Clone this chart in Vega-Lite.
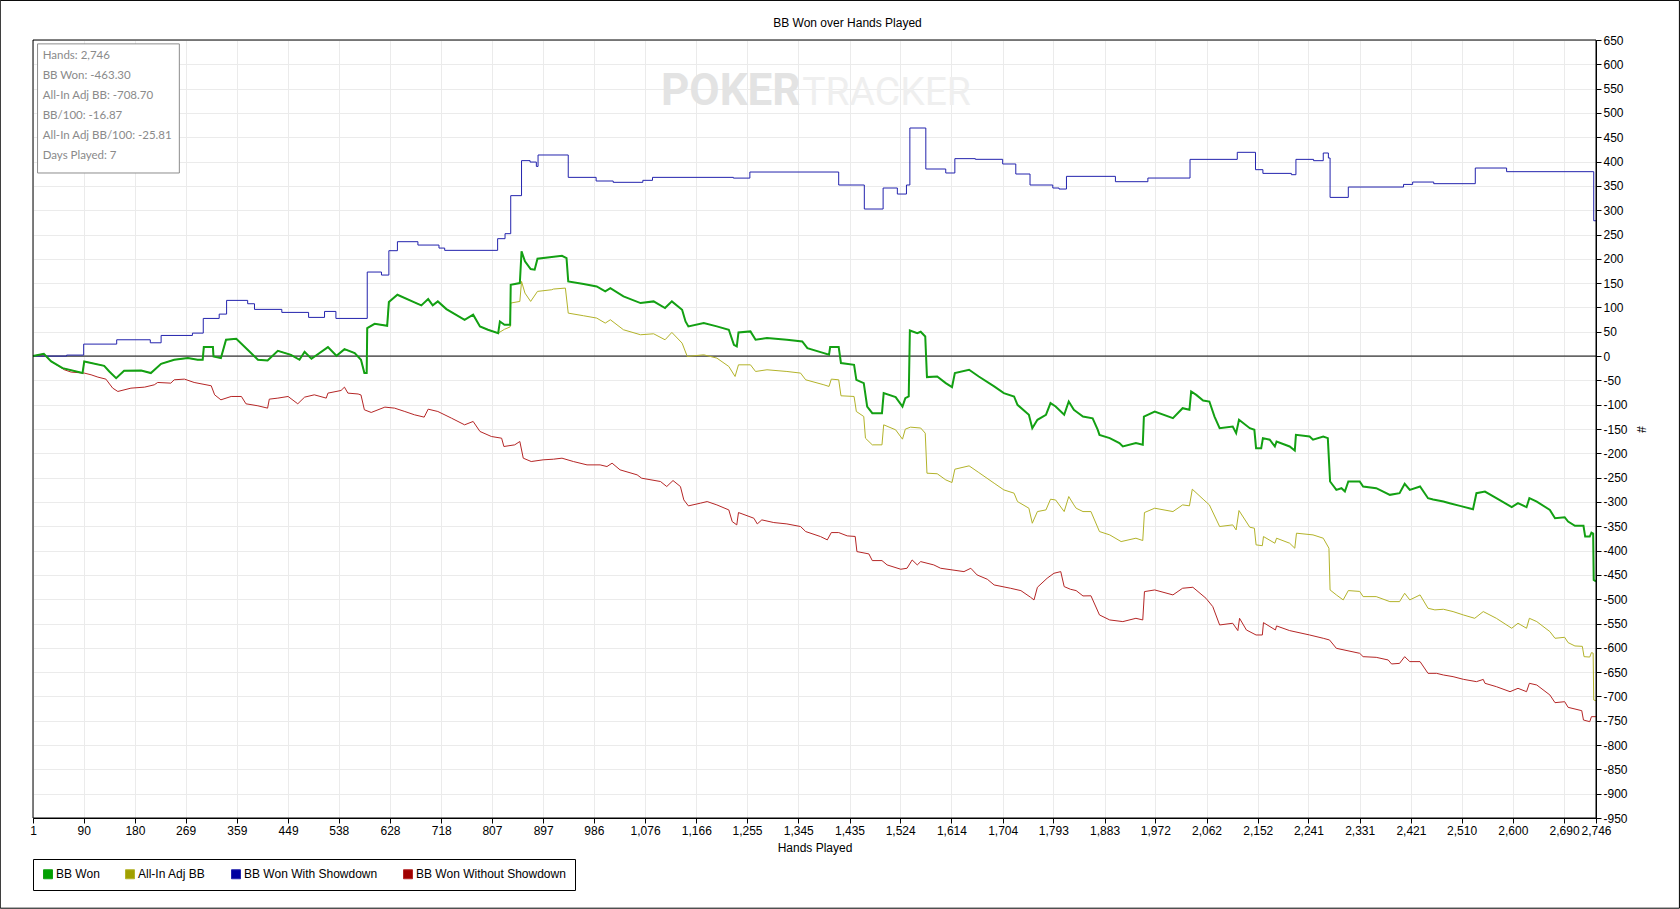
{
  "$schema": "https://vega.github.io/schema/vega-lite/v6.json",
  "width": 1563,
  "height": 778,
  "autosize": {"type": "none"},
  "padding": {"left": 33, "top": 40, "right": 84, "bottom": 91},
  "background": "white",
  "title": {"text": "BB Won over Hands Played", "font": "Liberation Sans", "fontSize": 12, "fontWeight": "normal", "color": "black", "offset": 5, "dx": 33, "dy": 35},
  "datasets": {
    "won": [
      {"hand":1,"bb":0},{"hand":20,"bb":4.7},{"hand":33,"bb":-11},{"hand":53,"bb":-24.8},{"hand":88,"bb":-35},{"hand":91,"bb":-11},{"hand":126,"bb":-20},{"hand":135,"bb":-31.7},{"hand":147,"bb":-45.4},{"hand":161,"bb":-30.3},{"hand":191,"bb":-29.6},{"hand":208,"bb":-35},{"hand":226,"bb":-15.9},{"hand":249,"bb":-7.6},{"hand":273,"bb":-4.2},{"hand":290,"bb":-7.6},{"hand":299,"bb":-7.6},{"hand":301,"bb":18.4},{"hand":317,"bb":18.4},{"hand":318,"bb":-0.8},{"hand":331,"bb":-4.2},{"hand":340,"bb":33.5},{"hand":358,"bb":35.6},{"hand":378,"bb":13},{"hand":396,"bb":-7.6},{"hand":413,"bb":-9},{"hand":431,"bb":10.9},{"hand":454,"bb":2.6},{"hand":469,"bb":-7.6},{"hand":478,"bb":8.8},{"hand":490,"bb":-5.6},{"hand":519,"bb":18.4},{"hand":534,"bb":0.6},{"hand":548,"bb":14.3},{"hand":566,"bb":6.1},{"hand":577,"bb":-7.6},{"hand":583,"bb":-35},{"hand":587,"bb":-35},{"hand":588,"bb":57.5},{"hand":601,"bb":66.4},{"hand":623,"bb":62.3},{"hand":626,"bb":111},{"hand":641,"bb":126.1},{"hand":671,"bb":110.4},{"hand":683,"bb":104.2},{"hand":695,"bb":117.2},{"hand":703,"bb":104.2},{"hand":712,"bb":112.4},{"hand":727,"bb":96.6},{"hand":759,"bb":74.7},{"hand":774,"bb":85},{"hand":786,"bb":61},{"hand":800,"bb":54.1},{"hand":818,"bb":47.2},{"hand":821,"bb":71.2},{"hand":829,"bb":64.4},{"hand":839,"bb":64.4},{"hand":840,"bb":146.7},{"hand":856,"bb":150.1},{"hand":859,"bb":215.3},{"hand":865,"bb":194.7},{"hand":875,"bb":179},{"hand":882,"bb":177.6},{"hand":887,"bb":200.2},{"hand":912,"bb":203.6},{"hand":930,"bb":206.3},{"hand":938,"bb":201.5},{"hand":941,"bb":153.5},{"hand":968,"bb":148},{"hand":991,"bb":143.2},{"hand":1006,"bb":133},{"hand":1015,"bb":139.8},{"hand":1038,"bb":122.6},{"hand":1068,"bb":109},{"hand":1091,"bb":112.4},{"hand":1111,"bb":98.7},{"hand":1123,"bb":112.4},{"hand":1141,"bb":95.2},{"hand":1147,"bb":71.2},{"hand":1152,"bb":61},{"hand":1179,"bb":67.8},{"hand":1202,"bb":61},{"hand":1223,"bb":54.1},{"hand":1232,"bb":23.2},{"hand":1237,"bb":19.8},{"hand":1240,"bb":48.6},{"hand":1261,"bb":50.7},{"hand":1270,"bb":33.5},{"hand":1290,"bb":37},{"hand":1325,"bb":33.5},{"hand":1352,"bb":30.1},{"hand":1361,"bb":16.3},{"hand":1390,"bb":6.1},{"hand":1399,"bb":2.6},{"hand":1401,"bb":18.4},{"hand":1416,"bb":18.4},{"hand":1420,"bb":-14.5},{"hand":1443,"bb":-18},{"hand":1447,"bb":-48.8},{"hand":1460,"bb":-55.7},{"hand":1466,"bb":-103.7},{"hand":1475,"bb":-117.4},{"hand":1492,"bb":-117.4},{"hand":1495,"bb":-76.3},{"hand":1516,"bb":-84.5},{"hand":1528,"bb":-103.7},{"hand":1533,"bb":-86.5},{"hand":1539,"bb":-83.1},{"hand":1541,"bb":52.7},{"hand":1554,"bb":47.2},{"hand":1560,"bb":50},{"hand":1568,"bb":40.3},{"hand":1571,"bb":-43.3},{"hand":1589,"bb":-42},{"hand":1604,"bb":-55.7},{"hand":1615,"bb":-63.9},{"hand":1620,"bb":-35},{"hand":1645,"bb":-28.2},{"hand":1662,"bb":-42},{"hand":1689,"bb":-62.5},{"hand":1706,"bb":-76.3},{"hand":1724,"bb":-83.1},{"hand":1730,"bb":-100.3},{"hand":1750,"bb":-120.8},{"hand":1756,"bb":-148.3},{"hand":1765,"bb":-131.1},{"hand":1780,"bb":-120.8},{"hand":1788,"bb":-96.8},{"hand":1797,"bb":-103.7},{"hand":1812,"bb":-120.8},{"hand":1820,"bb":-93.4},{"hand":1829,"bb":-110.6},{"hand":1833,"bb":-114},{"hand":1845,"bb":-124.4},{"hand":1862,"bb":-128},{"hand":1871,"bb":-151.8},{"hand":1874,"bb":-162},{"hand":1892,"bb":-168.8},{"hand":1909,"bb":-179.1},{"hand":1915,"bb":-186},{"hand":1938,"bb":-179},{"hand":1950,"bb":-182.5},{"hand":1952,"bb":-124.4},{"hand":1971,"bb":-114},{"hand":2003,"bb":-127.8},{"hand":2020,"bb":-107.2},{"hand":2032,"bb":-110.6},{"hand":2035,"bb":-72.9},{"hand":2044,"bb":-79.8},{"hand":2056,"bb":-91.4},{"hand":2067,"bb":-93.5},{"hand":2076,"bb":-124.4},{"hand":2085,"bb":-148.4},{"hand":2108,"bb":-144.8},{"hand":2114,"bb":-158.5},{"hand":2119,"bb":-131.1},{"hand":2138,"bb":-148.3},{"hand":2146,"bb":-151.7},{"hand":2149,"bb":-189.4},{"hand":2158,"bb":-189.4},{"hand":2161,"bb":-168.8},{"hand":2173,"bb":-172},{"hand":2182,"bb":-186},{"hand":2185,"bb":-175.7},{"hand":2208,"bb":-186},{"hand":2217,"bb":-194.2},{"hand":2219,"bb":-162},{"hand":2243,"bb":-165.4},{"hand":2249,"bb":-172},{"hand":2267,"bb":-165.4},{"hand":2275,"bb":-168.8},{"hand":2279,"bb":-258},{"hand":2290,"bb":-275.2},{"hand":2299,"bb":-271.7},{"hand":2305,"bb":-278.6},{"hand":2311,"bb":-258},{"hand":2331,"bb":-258},{"hand":2337,"bb":-268.3},{"hand":2360,"bb":-271.7},{"hand":2384,"bb":-285.4},{"hand":2401,"bb":-282},{"hand":2410,"bb":-262.8},{"hand":2419,"bb":-275.2},{"hand":2437,"bb":-268.3},{"hand":2451,"bb":-292.3},{"hand":2460,"bb":-295},{"hand":2478,"bb":-299.2},{"hand":2489,"bb":-302.6},{"hand":2507,"bb":-308.1},{"hand":2530,"bb":-315},{"hand":2536,"bb":-282},{"hand":2551,"bb":-278.6},{"hand":2571,"bb":-292.3},{"hand":2598,"bb":-310.8},{"hand":2609,"bb":-302.6},{"hand":2624,"bb":-310.8},{"hand":2629,"bb":-292.3},{"hand":2642,"bb":-299.2},{"hand":2665,"bb":-316.3},{"hand":2674,"bb":-333.5},{"hand":2691,"bb":-331.4},{"hand":2697,"bb":-340.3},{"hand":2709,"bb":-349.2},{"hand":2724,"bb":-349.2},{"hand":2727,"bb":-371.2},{"hand":2735,"bb":-371.2},{"hand":2738,"bb":-363},{"hand":2741,"bb":-365},{"hand":2742,"bb":-460.4},{"hand":2746,"bb":-463.3}
    ],
    "adj": [
      {"hand":1,"bb":0},{"hand":20,"bb":4.7},{"hand":33,"bb":-11},{"hand":53,"bb":-24.8},{"hand":88,"bb":-35},{"hand":91,"bb":-11},{"hand":126,"bb":-20},{"hand":135,"bb":-31.7},{"hand":147,"bb":-45.4},{"hand":161,"bb":-30.3},{"hand":191,"bb":-29.6},{"hand":208,"bb":-35},{"hand":226,"bb":-15.9},{"hand":249,"bb":-7.6},{"hand":273,"bb":-4.2},{"hand":290,"bb":-7.6},{"hand":299,"bb":-7.6},{"hand":301,"bb":18.4},{"hand":317,"bb":18.4},{"hand":318,"bb":-0.8},{"hand":331,"bb":-4.2},{"hand":340,"bb":33.5},{"hand":358,"bb":35.6},{"hand":378,"bb":13},{"hand":396,"bb":-7.6},{"hand":413,"bb":-9},{"hand":431,"bb":10.9},{"hand":454,"bb":2.6},{"hand":469,"bb":-7.6},{"hand":478,"bb":8.8},{"hand":490,"bb":-5.6},{"hand":519,"bb":18.4},{"hand":534,"bb":0.6},{"hand":548,"bb":14.3},{"hand":566,"bb":6.1},{"hand":577,"bb":-7.6},{"hand":583,"bb":-35},{"hand":587,"bb":-35},{"hand":588,"bb":57.5},{"hand":601,"bb":66.4},{"hand":623,"bb":62.3},{"hand":626,"bb":111},{"hand":641,"bb":126.1},{"hand":671,"bb":110.4},{"hand":683,"bb":104.2},{"hand":695,"bb":117.2},{"hand":703,"bb":104.2},{"hand":712,"bb":112.4},{"hand":727,"bb":96.6},{"hand":759,"bb":74.7},{"hand":774,"bb":85},{"hand":786,"bb":61},{"hand":800,"bb":54.1},{"hand":818,"bb":47.2},{"hand":829,"bb":55},{"hand":839,"bb":60},{"hand":840,"bb":109},{"hand":856,"bb":112.4},{"hand":859,"bb":153.5},{"hand":865,"bb":129.5},{"hand":875,"bb":112.4},{"hand":887,"bb":133},{"hand":912,"bb":136.4},{"hand":915,"bb":137.8},{"hand":936,"bb":139.8},{"hand":941,"bb":88.3},{"hand":968,"bb":82.9},{"hand":991,"bb":78.1},{"hand":1006,"bb":67.8},{"hand":1015,"bb":74.7},{"hand":1038,"bb":54.1},{"hand":1068,"bb":43.8},{"hand":1091,"bb":45.8},{"hand":1111,"bb":33.5},{"hand":1123,"bb":48.6},{"hand":1141,"bb":26.6},{"hand":1150,"bb":-0.8},{"hand":1179,"bb":2.6},{"hand":1202,"bb":-4.2},{"hand":1223,"bb":-21.4},{"hand":1234,"bb":-42},{"hand":1240,"bb":-18},{"hand":1261,"bb":-18},{"hand":1270,"bb":-31.7},{"hand":1290,"bb":-28.2},{"hand":1325,"bb":-31.7},{"hand":1349,"bb":-35},{"hand":1358,"bb":-48.8},{"hand":1390,"bb":-59.1},{"hand":1399,"bb":-62.5},{"hand":1403,"bb":-47.4},{"hand":1416,"bb":-48.8},{"hand":1420,"bb":-81.7},{"hand":1443,"bb":-83.1},{"hand":1447,"bb":-114},{"hand":1460,"bb":-124.3},{"hand":1463,"bb":-168.9},{"hand":1475,"bb":-182.6},{"hand":1492,"bb":-182.6},{"hand":1495,"bb":-141.4},{"hand":1516,"bb":-151.7},{"hand":1528,"bb":-170.9},{"hand":1533,"bb":-150.3},{"hand":1542,"bb":-146.2},{"hand":1560,"bb":-148},{"hand":1568,"bb":-158.6},{"hand":1571,"bb":-240.9},{"hand":1589,"bb":-242},{"hand":1604,"bb":-254.6},{"hand":1615,"bb":-260.1},{"hand":1620,"bb":-232.7},{"hand":1645,"bb":-225.8},{"hand":1662,"bb":-239.5},{"hand":1689,"bb":-261.5},{"hand":1706,"bb":-275.2},{"hand":1724,"bb":-282},{"hand":1730,"bb":-299.2},{"hand":1750,"bb":-312.9},{"hand":1756,"bb":-343.8},{"hand":1765,"bb":-319.8},{"hand":1780,"bb":-316.4},{"hand":1788,"bb":-294.4},{"hand":1797,"bb":-296},{"hand":1812,"bb":-319.8},{"hand":1820,"bb":-288.9},{"hand":1829,"bb":-306.1},{"hand":1833,"bb":-312.9},{"hand":1845,"bb":-319.8},{"hand":1859,"bb":-319.8},{"hand":1874,"bb":-360.9},{"hand":1892,"bb":-367.8},{"hand":1912,"bb":-381.5},{"hand":1938,"bb":-374.6},{"hand":1950,"bb":-379.4},{"hand":1953,"bb":-321.8},{"hand":1971,"bb":-312.9},{"hand":2003,"bb":-319.8},{"hand":2020,"bb":-306.1},{"hand":2032,"bb":-308},{"hand":2037,"bb":-273.8},{"hand":2056,"bb":-294.4},{"hand":2067,"bb":-306.1},{"hand":2085,"bb":-350.6},{"hand":2108,"bb":-347.2},{"hand":2114,"bb":-357.5},{"hand":2119,"bb":-317.7},{"hand":2138,"bb":-352},{"hand":2146,"bb":-354},{"hand":2149,"bb":-388.3},{"hand":2160,"bb":-390},{"hand":2162,"bb":-371.2},{"hand":2182,"bb":-384.9},{"hand":2185,"bb":-374.6},{"hand":2208,"bb":-384.9},{"hand":2217,"bb":-395.2},{"hand":2220,"bb":-364.3},{"hand":2249,"bb":-367.8},{"hand":2267,"bb":-374.6},{"hand":2277,"bb":-395.2},{"hand":2279,"bb":-481},{"hand":2290,"bb":-491.2},{"hand":2302,"bb":-501.5},{"hand":2311,"bb":-482.3},{"hand":2331,"bb":-484},{"hand":2337,"bb":-494.7},{"hand":2360,"bb":-494.7},{"hand":2384,"bb":-505},{"hand":2401,"bb":-505},{"hand":2410,"bb":-487.8},{"hand":2419,"bb":-501.5},{"hand":2437,"bb":-491.2},{"hand":2451,"bb":-518.7},{"hand":2463,"bb":-522},{"hand":2478,"bb":-520.7},{"hand":2495,"bb":-525.5},{"hand":2513,"bb":-532.4},{"hand":2533,"bb":-539.3},{"hand":2548,"bb":-525.5},{"hand":2571,"bb":-539.3},{"hand":2598,"bb":-559.8},{"hand":2609,"bb":-549.5},{"hand":2624,"bb":-559.8},{"hand":2629,"bb":-539.3},{"hand":2642,"bb":-546.1},{"hand":2665,"bb":-566.7},{"hand":2674,"bb":-580.4},{"hand":2691,"bb":-578.4},{"hand":2697,"bb":-589.3},{"hand":2709,"bb":-596.2},{"hand":2722,"bb":-597},{"hand":2725,"bb":-618.2},{"hand":2735,"bb":-619},{"hand":2738,"bb":-609.9},{"hand":2741,"bb":-611},{"hand":2742,"bb":-707.3},{"hand":2746,"bb":-708.7}
    ],
    "sd": [
      {"hand":1,"bb":0},{"hand":60,"bb":2},{"hand":90,"bb":24.6},{"hand":148,"bb":33.5},{"hand":207,"bb":27.3},{"hand":226,"bb":42.4},{"hand":281,"bb":47.2},{"hand":300,"bb":77.4},{"hand":328,"bb":86.3},{"hand":341,"bb":114.5},{"hand":378,"bb":107.6},{"hand":390,"bb":96},{"hand":438,"bb":89.8},{"hand":485,"bb":79.5},{"hand":513,"bb":91.8},{"hand":533,"bb":77.4},{"hand":588,"bb":172.8},{"hand":613,"bb":166.6},{"hand":626,"bb":216.7},{"hand":641,"bb":235.2},{"hand":677,"bb":228.3},{"hand":714,"bb":222.1},{"hand":724,"bb":217.4},{"hand":817,"bb":241.4},{"hand":830,"bb":251.7},{"hand":840,"bb":329.9},{"hand":859,"bb":401.9},{"hand":874,"bb":399},{"hand":885,"bb":390},{"hand":888,"bb":413.5},{"hand":941,"bb":367.5},{"hand":990,"bb":360},{"hand":1020,"bb":357.3},{"hand":1072,"bb":361.4},{"hand":1089,"bb":367.5},{"hand":1231,"bb":366},{"hand":1260,"bb":378.5},{"hand":1416,"bb":351.8},{"hand":1461,"bb":302.4},{"hand":1494,"bb":345.6},{"hand":1519,"bb":333.2},{"hand":1535,"bb":351.8},{"hand":1541,"bb":469},{"hand":1569,"bb":384.7},{"hand":1604,"bb":376.5},{"hand":1620,"bb":406},{"hand":1656,"bb":404.6},{"hand":1704,"bb":395},{"hand":1727,"bb":374.4},{"hand":1752,"bb":351.8},{"hand":1792,"bb":345.6},{"hand":1803,"bb":343.5},{"hand":1816,"bb":369.6},{"hand":1902,"bb":358.6},{"hand":1959,"bb":366.1},{"hand":2033,"bb":404.5},{"hand":2116,"bb":419},{"hand":2148,"bb":383.3},{"hand":2161,"bb":375.7},{"hand":2211,"bb":373},{"hand":2219,"bb":404.5},{"hand":2250,"bb":401.8},{"hand":2267,"bb":417.6},{"hand":2276,"bb":407.3},{"hand":2279,"bb":326.3},{"hand":2311,"bb":347.6},{"hand":2408,"bb":353},{"hand":2424,"bb":357.9},{"hand":2461,"bb":354.5},{"hand":2534,"bb":386.7},{"hand":2589,"bb":379.2},{"hand":2742,"bb":278.3},{"hand":2746,"bb":278.3}
    ],
    "nsd": [
      {"hand":1,"bb":0},{"hand":21,"bb":2.7},{"hand":33,"bb":-11},{"hand":56,"bb":-28.2},{"hand":68,"bb":-33},{"hand":91,"bb":-35},{"hand":103,"bb":-38.5},{"hand":115,"bb":-43.3},{"hand":129,"bb":-47.4},{"hand":141,"bb":-66},{"hand":150,"bb":-72.8},{"hand":173,"bb":-66},{"hand":197,"bb":-63.9},{"hand":214,"bb":-59.1},{"hand":220,"bb":-54.3},{"hand":243,"bb":-55.7},{"hand":249,"bb":-48.8},{"hand":267,"bb":-47.4},{"hand":284,"bb":-54.3},{"hand":314,"bb":-61.1},{"hand":320,"bb":-79.7},{"hand":331,"bb":-90},{"hand":349,"bb":-83.1},{"hand":367,"bb":-83.1},{"hand":375,"bb":-98.2},{"hand":396,"bb":-102.3},{"hand":413,"bb":-107.1},{"hand":416,"bb":-88.6},{"hand":431,"bb":-86.5},{"hand":449,"bb":-83.1},{"hand":466,"bb":-98.2},{"hand":478,"bb":-84.5},{"hand":495,"bb":-79.7},{"hand":516,"bb":-86.5},{"hand":519,"bb":-76.2},{"hand":542,"bb":-70.8},{"hand":548,"bb":-63.9},{"hand":554,"bb":-76.2},{"hand":572,"bb":-78},{"hand":577,"bb":-80},{"hand":583,"bb":-110.5},{"hand":595,"bb":-116},{"hand":619,"bb":-105},{"hand":636,"bb":-107.1},{"hand":654,"bb":-114},{"hand":671,"bb":-120.8},{"hand":688,"bb":-125.6},{"hand":695,"bb":-109.2},{"hand":712,"bb":-114},{"hand":736,"bb":-127.7},{"hand":759,"bb":-141.4},{"hand":774,"bb":-134.5},{"hand":786,"bb":-155.1},{"hand":806,"bb":-165.4},{"hand":824,"bb":-168.9},{"hand":828,"bb":-186},{"hand":847,"bb":-182.6},{"hand":856,"bb":-175.7},{"hand":862,"bb":-210},{"hand":876,"bb":-216.9},{"hand":897,"bb":-213.4},{"hand":915,"bb":-212.1},{"hand":930,"bb":-210},{"hand":950,"bb":-216.9},{"hand":974,"bb":-223.8},{"hand":997,"bb":-223.8},{"hand":1009,"bb":-227.2},{"hand":1018,"bb":-220.3},{"hand":1032,"bb":-234},{"hand":1062,"bb":-244.3},{"hand":1070,"bb":-251.2},{"hand":1103,"bb":-258},{"hand":1114,"bb":-268.3},{"hand":1125,"bb":-256},{"hand":1138,"bb":-268.3},{"hand":1144,"bb":-295.8},{"hand":1152,"bb":-308.1},{"hand":1173,"bb":-302.6},{"hand":1185,"bb":-299.2},{"hand":1202,"bb":-306.1},{"hand":1223,"bb":-316.4},{"hand":1229,"bb":-340.4},{"hand":1237,"bb":-347.2},{"hand":1240,"bb":-321.8},{"hand":1267,"bb":-333.5},{"hand":1273,"bb":-345.2},{"hand":1281,"bb":-336.9},{"hand":1302,"bb":-342.4},{"hand":1325,"bb":-345.2},{"hand":1349,"bb":-350.6},{"hand":1358,"bb":-360.9},{"hand":1384,"bb":-371.2},{"hand":1396,"bb":-378},{"hand":1403,"bb":-363},{"hand":1416,"bb":-363},{"hand":1431,"bb":-369.8},{"hand":1445,"bb":-371},{"hand":1448,"bb":-402.1},{"hand":1469,"bb":-406.9},{"hand":1475,"bb":-420.6},{"hand":1492,"bb":-420.6},{"hand":1501,"bb":-429.5},{"hand":1525,"bb":-438.4},{"hand":1536,"bb":-436.4},{"hand":1545,"bb":-419.3},{"hand":1554,"bb":-429.5},{"hand":1560,"bb":-422.7},{"hand":1583,"bb":-429.5},{"hand":1595,"bb":-436.4},{"hand":1636,"bb":-443.3},{"hand":1648,"bb":-436.4},{"hand":1659,"bb":-450.1},{"hand":1677,"bb":-459},{"hand":1689,"bb":-470.7},{"hand":1718,"bb":-477.6},{"hand":1736,"bb":-482.4},{"hand":1753,"bb":-496.1},{"hand":1759,"bb":-501.6},{"hand":1765,"bb":-475.5},{"hand":1782,"bb":-457},{"hand":1794,"bb":-446.7},{"hand":1806,"bb":-443.3},{"hand":1812,"bb":-474.1},{"hand":1823,"bb":-479.6},{"hand":1833,"bb":-482.3},{"hand":1845,"bb":-493.3},{"hand":1859,"bb":-493},{"hand":1874,"bb":-532.4},{"hand":1892,"bb":-542.7},{"hand":1915,"bb":-546.1},{"hand":1938,"bb":-539.3},{"hand":1950,"bb":-542.7},{"hand":1953,"bb":-484.4},{"hand":1971,"bb":-481},{"hand":2003,"bb":-491.2},{"hand":2020,"bb":-477.5},{"hand":2038,"bb":-475.5},{"hand":2061,"bb":-498.1},{"hand":2073,"bb":-515.3},{"hand":2085,"bb":-553},{"hand":2108,"bb":-549.5},{"hand":2117,"bb":-564.6},{"hand":2120,"bb":-539.3},{"hand":2132,"bb":-563.3},{"hand":2149,"bb":-573.6},{"hand":2160,"bb":-573.6},{"hand":2162,"bb":-548.2},{"hand":2183,"bb":-563.3},{"hand":2185,"bb":-555},{"hand":2208,"bb":-564.6},{"hand":2243,"bb":-573.6},{"hand":2267,"bb":-580.4},{"hand":2278,"bb":-583.9},{"hand":2290,"bb":-601},{"hand":2331,"bb":-611.3},{"hand":2337,"bb":-618.2},{"hand":2360,"bb":-619.6},{"hand":2381,"bb":-625},{"hand":2387,"bb":-633.2},{"hand":2401,"bb":-632},{"hand":2410,"bb":-618.2},{"hand":2419,"bb":-628.4},{"hand":2437,"bb":-628.4},{"hand":2451,"bb":-652.5},{"hand":2466,"bb":-652.5},{"hand":2478,"bb":-655.9},{"hand":2495,"bb":-659.3},{"hand":2513,"bb":-664.8},{"hand":2536,"bb":-669.6},{"hand":2548,"bb":-665},{"hand":2551,"bb":-673},{"hand":2571,"bb":-679.9},{"hand":2595,"bb":-690.2},{"hand":2609,"bb":-683.3},{"hand":2624,"bb":-690.2},{"hand":2629,"bb":-673},{"hand":2642,"bb":-676.5},{"hand":2665,"bb":-697},{"hand":2674,"bb":-712.8},{"hand":2691,"bb":-710.8},{"hand":2697,"bb":-722.4},{"hand":2721,"bb":-729.3},{"hand":2724,"bb":-748.5},{"hand":2735,"bb":-751.9},{"hand":2738,"bb":-741.6},{"hand":2746,"bb":-741.6}
    ],
    "stats": [
      {"hand":18,"bb":616.5,"label":"Hands: 2,746"},
      {"hand":18,"bb":575.3,"label":"BB Won: -463.30"},
      {"hand":18,"bb":534.2,"label":"All-In Adj BB: -708.70"},
      {"hand":18,"bb":493,"label":"BB/100: -16.87"},
      {"hand":18,"bb":451.9,"label":"All-In Adj BB/100: -25.81"},
      {"hand":18,"bb":410.7,"label":"Days Played: 7"}
    ]
  },
  "encoding": {
    "x": {
      "field": "hand",
      "type": "quantitative",
      "title": "Hands Played",
      "scale": {"domain": [1, 2746], "nice": false, "zero": false},
      "axis": {
        "values": [1, 90, 180, 269, 359, 449, 538, 628, 718, 807, 897, 986, 1076, 1166, 1255, 1345, 1435, 1524, 1614, 1704, 1793, 1883, 1972, 2062, 2152, 2241, 2331, 2421, 2510, 2600, 2690, 2746],
        "labelExpr": "format(datum.value, ',')",
        "labelOverlap": false,
        "labelFlush": false,
        "grid": true,
        "titlePadding": 6
      }
    },
    "y": {
      "field": "bb",
      "type": "quantitative",
      "title": "#",
      "scale": {"domain": [-950, 650], "nice": false, "zero": false},
      "axis": {
        "orient": "right",
        "values": [-950, -900, -850, -800, -750, -700, -650, -600, -550, -500, -450, -400, -350, -300, -250, -200, -150, -100, -50, 0, 50, 100, 150, 200, 250, 300, 350, 400, 450, 500, 550, 600, 650],
        "labelExpr": "toString(datum.value)",
        "labelOverlap": false,
        "labelFlush": false,
        "grid": true,
        "titlePadding": 6
      }
    }
  },
  "layer": [
    {
      "data": {"values": [{"hand": 1349, "bb": 517, "word": "POKER"}]},
      "mark": {"type": "text", "align": "right", "baseline": "alphabetic", "font": "Roboto", "fontSize": 44, "fontWeight": "bold", "color": "#e3e3e3"},
      "encoding": {"text": {"field": "word"}}
    },
    {
      "data": {"values": [{"hand": 1352, "bb": 517, "word": "TRACKER"}]},
      "mark": {"type": "text", "align": "left", "baseline": "alphabetic", "font": "Roboto", "fontSize": 39, "fontWeight": "normal", "color": "#efefef"},
      "encoding": {"text": {"field": "word"}}
    },
    {
      "data": {"values": [{"hand": 1, "bb": 0}]},
      "mark": {"type": "rule", "color": "black", "strokeWidth": 1},
      "encoding": {"x": {"datum": 1}, "x2": {"datum": 2746}, "y": {"datum": 0}}
    },
    {
      "data": {"name": "adj"},
      "mark": {"type": "line", "strokeWidth": 1},
      "encoding": {
        "color": {
          "datum": "All-In Adj BB",
          "type": "nominal",
          "scale": {
            "domain": ["BB Won", "All-In Adj BB", "BB Won With Showdown", "BB Won Without Showdown"],
            "range": ["#13a013", "#b3b32a", "#2323ad", "#b52626"]
          },
          "legend": {
            "title": null,
            "orient": "none",
            "legendX": 0,
            "legendY": 819,
            "direction": "horizontal",
            "strokeColor": "black",
            "padding": 9,
            "symbolType": "square",
            "symbolSize": 81,
            "symbolStrokeColor": "black",
            "symbolStrokeWidth": 1,
            "labelFont": "Liberation Sans",
            "labelFontSize": 12,
            "labelColor": "black",
            "labelOffset": 2,
            "columnPadding": 23,
            "encode": {
              "symbols": {
                "update": {
                  "fill": {"signal": "datum.value == 'BB Won' ? '#00a000' : datum.value == 'All-In Adj BB' ? '#a0a000' : datum.value == 'BB Won With Showdown' ? '#0000a0' : '#a00000'"},
                  "fillOpacity": {"value": 1},
                  "stroke": {"value": "black"},
                  "strokeWidth": {"value": 1}
                }
              }
            }
          }
        }
      }
    },
    {
      "data": {"name": "nsd"},
      "mark": {"type": "line", "strokeWidth": 1},
      "encoding": {"color": {"datum": "BB Won Without Showdown", "type": "nominal"}}
    },
    {
      "data": {"name": "sd"},
      "mark": {"type": "line", "strokeWidth": 1, "interpolate": "step-after"},
      "encoding": {"color": {"datum": "BB Won With Showdown", "type": "nominal"}}
    },
    {
      "data": {"name": "won"},
      "mark": {"type": "line", "strokeWidth": 2},
      "encoding": {"color": {"datum": "BB Won", "type": "nominal"}}
    },
    {
      "data": {"values": [{"hand": 9, "hand2": 258, "bb": 642, "bb2": 376.5}]},
      "mark": {"type": "rect", "fill": "white", "stroke": "#8c8c8c", "strokeWidth": 1},
      "encoding": {"x2": {"field": "hand2"}, "y2": {"field": "bb2"}}
    },
    {
      "data": {"name": "stats"},
      "mark": {"type": "text", "align": "left", "baseline": "middle", "font": "Lato", "fontSize": 11.5, "color": "#8a8a8a"},
      "encoding": {"text": {"field": "label"}}
    },
    {
      "data": {"values": [{"hand": 1, "hand2": 2746, "bb": 650, "bb2": -950}]},
      "mark": {"type": "rect", "fill": null, "stroke": "black", "strokeWidth": 1},
      "encoding": {"x2": {"field": "hand2"}, "y2": {"field": "bb2"}}
    },
    {
      "data": {"values": [{"hand": -56.5, "hand2": 2892.5, "bb": 731.3, "bb2": -1135.5}]},
      "mark": {"type": "rect", "fill": null, "stroke": "black", "strokeWidth": 1, "clip": false},
      "encoding": {"x2": {"field": "hand2"}, "y2": {"field": "bb2"}}
    }
  ],
  "config": {
    "view": {"stroke": "black", "strokeWidth": 1},
    "font": "Liberation Sans",
    "axis": {
      "gridColor": "#ebebeb",
      "gridWidth": 1,
      "domainColor": "black",
      "tickColor": "black",
      "tickSize": 5,
      "labelPadding": 2,
      "labelColor": "black",
      "labelFont": "Liberation Sans",
      "labelFontSize": 12,
      "titleFont": "Liberation Sans",
      "titleFontSize": 12,
      "titleFontWeight": "normal",
      "titleColor": "black"
    }
  }
}
